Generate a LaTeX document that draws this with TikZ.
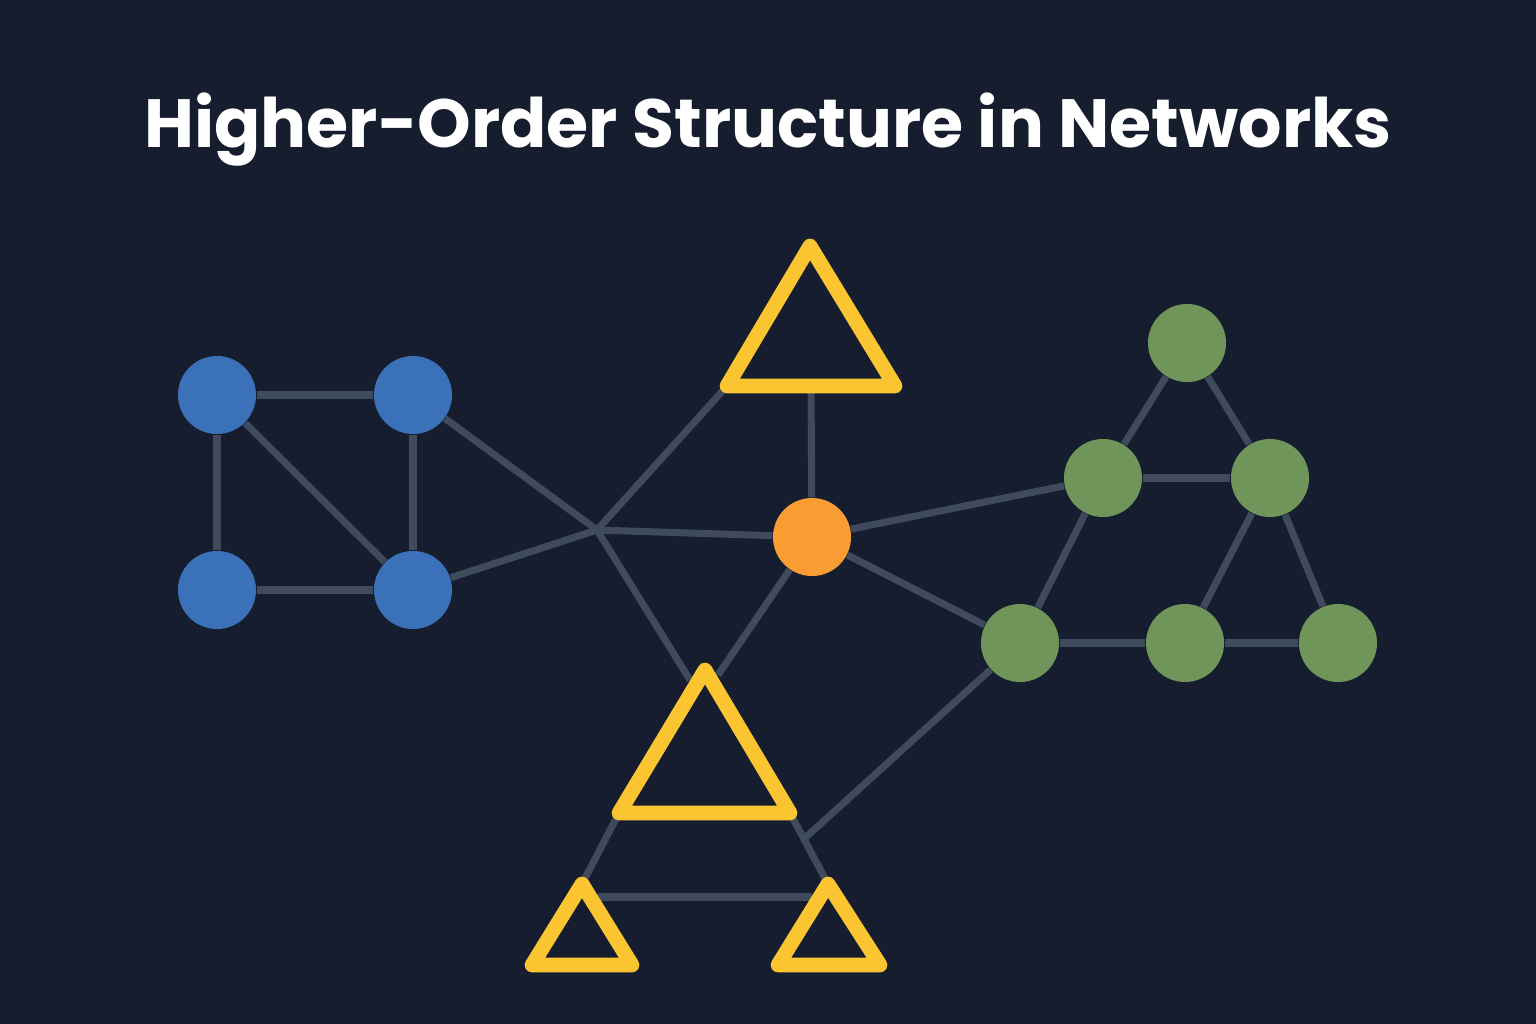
\documentclass[tikz,border=0pt]{standalone}
\usepackage{fontspec}
\setmainfont{Poppins}
\usetikzlibrary{backgrounds}
\definecolor{bgdark}{HTML}{151D2E}
\definecolor{edgegray}{HTML}{3F4A5C}
\definecolor{blueN}{HTML}{3B71B8}
\definecolor{greenN}{HTML}{6F955B}
\definecolor{orangeN}{HTML}{F99D33}
\definecolor{yellowT}{HTML}{FBC531}
\begin{document}
\begin{tikzpicture}[x=0.01cm,y=-0.01cm,
  link/.style={draw=edgegray,line width=2pt},
  dot/.style={circle,minimum size=0.78cm,inner sep=0pt},
  tri/.style={draw=yellowT,line width=4.2pt,line join=round}]

\useasboundingbox (0,0) rectangle (1536,1024);

% Titel
\node[text=white,font=\bfseries\fontsize{19.4}{24}\selectfont] (title) at (768,130) {Higher-Order Structure in Networks};

% Knoten
\node[dot,fill=blueN] (b1) at (217,395) {};
\node[dot,fill=blueN] (b2) at (413,395) {};
\node[dot,fill=blueN] (b3) at (217,590) {};
\node[dot,fill=blueN] (b4) at (413,590) {};
\node[dot,fill=orangeN] (hub) at (812,537) {};
\node[dot,fill=greenN] (g1) at (1187,343) {};
\node[dot,fill=greenN] (g2) at (1103,478) {};
\node[dot,fill=greenN] (g3) at (1270,478) {};
\node[dot,fill=greenN] (g4) at (1020,643) {};
\node[dot,fill=greenN] (g5) at (1185,643) {};
\node[dot,fill=greenN] (g6) at (1338,643) {};

% Dreiecke: Ecken
\coordinate (tA) at (810,246); \coordinate (tL) at (727,386); \coordinate (tR) at (895,386);
\coordinate (mA) at (705,670); \coordinate (mL) at (619,813); \coordinate (mR) at (790,813);
\coordinate (lA) at (582,884); \coordinate (lL) at (532,965); \coordinate (lR) at (632,965);
\coordinate (rA) at (828,884); \coordinate (rL) at (778,965); \coordinate (rR) at (880,965);
\coordinate (tB) at (811,386);
\coordinate (mE) at (805,838);
\coordinate (mJ) at (690,680); \coordinate (mH) at (718,675);
\coordinate (sL) at (598,897); \coordinate (sR) at (812,897);
\coordinate (jn) at (597,530);

% Kanten, hinter den Knoten
\begin{scope}[on background layer]
\fill[bgdark] (0,0) rectangle (1536,1024);
\foreach \a/\b in {b1/b2,b1/b3,b1/b4,b2/b4,b3/b4,b2/jn,b4/jn,jn/hub,jn/tL,jn/mJ,hub/mH,tB/hub,
    hub/g2,hub/g4,g1/g2,g1/g3,g2/g3,g2/g4,g3/g5,g3/g6,g4/g5,g5/g6,
    g4/mE,sL/sR,mL/lA,mR/rA}
  \draw[link] (\a) -- (\b);
\end{scope}

% Dreiecke
\draw[tri] (tA) -- (tL) -- (tR) -- cycle;
\draw[tri] (mA) -- (mL) -- (mR) -- cycle;
\draw[tri] (lA) -- (lL) -- (lR) -- cycle;
\draw[tri] (rA) -- (rL) -- (rR) -- cycle;
\end{tikzpicture}
\end{document}
